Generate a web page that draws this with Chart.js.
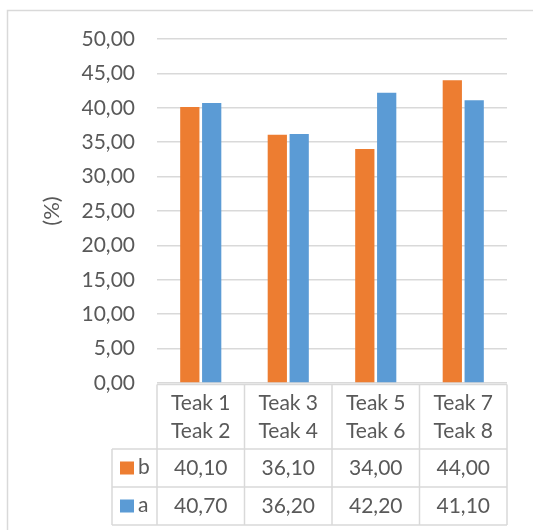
<!DOCTYPE html>
<html>
<head>
<meta charset="utf-8">
<script src="https://cdn.jsdelivr.net/npm/chart.js@4/dist/chart.umd.min.js"></script>
<style>
  html, body { margin: 0; padding: 0; background: #fff; }
  #wrap { position: relative; width: 533px; height: 530px; }
</style>
</head>
<body>
<div id="wrap"><canvas id="chart" width="533" height="530"></canvas></div>
<script>
// ---- data ----
const categories = [["Teak 1", "Teak 2"], ["Teak 3", "Teak 4"], ["Teak 5", "Teak 6"], ["Teak 7", "Teak 8"]];
const seriesNames = ["b", "a"];
const valuesB = [40.10, 36.10, 34.00, 44.00];
const valuesA = [40.70, 36.20, 42.20, 41.10];
const yTicks = [0, 5, 10, 15, 20, 25, 30, 35, 40, 45, 50];

const ORANGE = "#ED7D31";
const BLUE = "#5B9BD5";
const GRID = "#d9d9d9";
const TEXT = "#595959";
const FONT = "Lato, 'Open Sans', sans-serif";

const fmt = v => v.toFixed(2).replace(".", ",");

// 아래 데이터 테이블 (엑셀 스타일)
const dataTablePlugin = {
  id: "dataTable",
  beforeDraw(chart) {
    const ctx = chart.ctx;
    ctx.save();
    ctx.strokeStyle = GRID;
    ctx.lineWidth = 1.5;
    ctx.strokeRect(7.5, 10.5, 700, 700);
    ctx.restore();
  },
  afterDraw(chart) {
    const ctx = chart.ctx;
    const x = chart.scales.x;
    const area = chart.chartArea;
    const n = categories.length;
    const step = (area.right - area.left) / n;
    const cols = [];
    for (let i = 0; i <= n; i++) cols.push(area.left + step * i);

    const top = area.bottom + 1.5;
    const headBottom = 449;
    const rowH = 38;
    const rows = [headBottom, headBottom + rowH, headBottom + rowH * 2];
    const legendLeft = 112;

    ctx.save();
    ctx.strokeStyle = GRID;
    ctx.lineWidth = 1.5;
    ctx.beginPath();
    ctx.moveTo(cols[0], top); ctx.lineTo(cols[n], top);
    rows.forEach(y => { ctx.moveTo(legendLeft, y); ctx.lineTo(cols[n], y); });
    cols.forEach(cx => { ctx.moveTo(cx, top); ctx.lineTo(cx, rows[2]); });
    ctx.moveTo(legendLeft, headBottom); ctx.lineTo(legendLeft, rows[2]);
    ctx.stroke();

    ctx.fillStyle = TEXT;
    ctx.font = "21px " + FONT;
    ctx.textAlign = "center";
    ctx.textBaseline = "middle";
    categories.forEach((lbl, i) => {
      const cx = x.getPixelForValue(i);
      ctx.fillText(lbl[0], cx, 403);
      ctx.fillText(lbl[1], cx, 431);
    });

    const series = [valuesB, valuesA];
    const colors = [ORANGE, BLUE];
    series.forEach((vals, r) => {
      const cy = rows[r] + rowH / 2;
      vals.forEach((v, i) => {
        ctx.fillStyle = TEXT;
        ctx.textAlign = "center";
        ctx.fillText(fmt(v), x.getPixelForValue(i), cy);
      });
      ctx.fillStyle = colors[r];
      ctx.fillRect(120, cy - 6.5, 14, 13);
      ctx.fillStyle = TEXT;
      ctx.textAlign = "left";
      ctx.fillText(seriesNames[r], 138, cy - 1);
    });
    ctx.restore();
  }
};

new Chart(document.getElementById("chart").getContext("2d"), {
  type: "bar",
  data: {
    labels: categories,
    datasets: [
      { label: seriesNames[0], data: valuesB, backgroundColor: ORANGE },
      { label: seriesNames[1], data: valuesA, backgroundColor: BLUE }
    ]
  },
  options: {
    responsive: false,
    animation: false,
    events: [],
    layout: { padding: { top: 39, bottom: 147, right: 26, left: 0 } },
    datasets: { bar: { categoryPercentage: 0.5, barPercentage: 0.88 } },
    plugins: { legend: { display: false }, tooltip: { enabled: false } },
    scales: {
      x: { display: false },
      y: {
        min: 0,
        max: 50,
        afterFit(scale) { scale.width = 157; },
        afterBuildTicks(scale) { scale.ticks = yTicks.map(v => ({ value: v })); },
        border: { display: false },
        grid: { color: GRID, lineWidth: 1.5, drawTicks: false },
        ticks: {
          padding: 22,
          color: TEXT,
          font: { family: FONT, size: 21 },
          callback: v => fmt(v)
        },
        title: {
          display: true,
          text: "(%)",
          color: TEXT,
          font: { family: FONT, size: 22 },
          padding: { top: 39, bottom: 0 }
        }
      }
    }
  },
  plugins: [dataTablePlugin]
});
</script>
</body>
</html>
